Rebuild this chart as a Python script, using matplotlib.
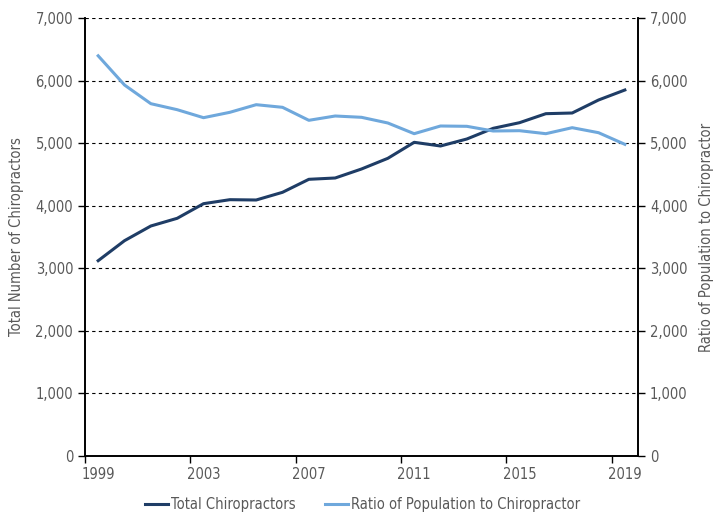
import matplotlib.pyplot as plt
from matplotlib.ticker import FuncFormatter

# years 1999-2019
years = list(range(1999, 2020))

# total number of chiropractors (left axis)
total = [3122, 3442, 3677, 3800, 4034, 4098, 4093, 4216, 4424, 4445, 4589,
         4760, 5016, 4957, 5069, 5240, 5330, 5474, 5485, 5693, 5853]

# ratio of population to chiropractor (right axis)
ratio = [6400, 5933, 5634, 5538, 5410, 5496, 5618, 5576, 5368, 5437, 5416,
         5325, 5154, 5277, 5272, 5197, 5202, 5154, 5250, 5170, 4984]

plt.rcParams['font.family'] = ['DejaVu Sans']
plt.rcParams['font.stretch'] = 'condensed'
grey = '#595959'
dark = '#1f3d66'
light = '#6fa8dc'
fs = 10.5

fig = plt.figure(figsize=(7.18, 5.19), dpi=100)
ax = fig.add_axes([0.1184, 0.1218, 0.7702, 0.8429])
ax2 = ax.twinx()

x = list(range(len(years)))
ax.plot(x, total, color=dark, lw=2.2, label='Total Chiropractors')
ax2.plot(x, ratio, color=light, lw=2.2, label='Ratio of Population to Chiropractor')

for a in (ax, ax2):
    a.set_ylim(0, 7000)
    a.set_yticks(range(0, 7001, 1000))
    a.yaxis.set_major_formatter(FuncFormatter(lambda v, p: f'{int(v):,}'))
    a.tick_params(axis='y', colors='black', labelcolor=grey, labelsize=fs,
                  length=5, width=1)
    a.spines['top'].set_visible(False)
    for s in a.spines.values():
        s.set_color('black')
        s.set_linewidth(1.2)

ax.set_xlim(-0.5, len(years) - 0.5)
# tick marks at category boundaries, labels centred on categories
ax.set_xticks([i - 0.5 for i in range(0, len(years), 4)])
ax.set_xticklabels([])
ax.set_xticks(range(0, len(years), 4), minor=True)
ax.set_xticklabels([str(years[i]) for i in range(0, len(years), 4)], minor=True)
ax.tick_params(axis='x', which='major', length=5, width=1, colors='black')
ax.tick_params(axis='x', which='minor', length=0, labelcolor=grey,
               labelsize=fs, pad=8)

ax.grid(axis='y', color='black', linestyle=(0, (3, 3)), linewidth=0.8)
ax.set_axisbelow(True)

ax.set_ylabel('Total Number of Chiropractors', color=grey, fontsize=fs, labelpad=8)
ax2.set_ylabel('Ratio of Population to Chiropractor', color=grey, fontsize=fs,
               labelpad=8)

h1, l1 = ax.get_legend_handles_labels()
h2, l2 = ax2.get_legend_handles_labels()
fig.legend(h1 + h2, l1 + l2, loc='center', bbox_to_anchor=(0.505, 0.028),
           ncol=2, frameon=False, fontsize=fs, labelcolor=grey,
           handlelength=1.6, handletextpad=0.2, columnspacing=2.0)

fig.savefig('out.png', dpi=100)
